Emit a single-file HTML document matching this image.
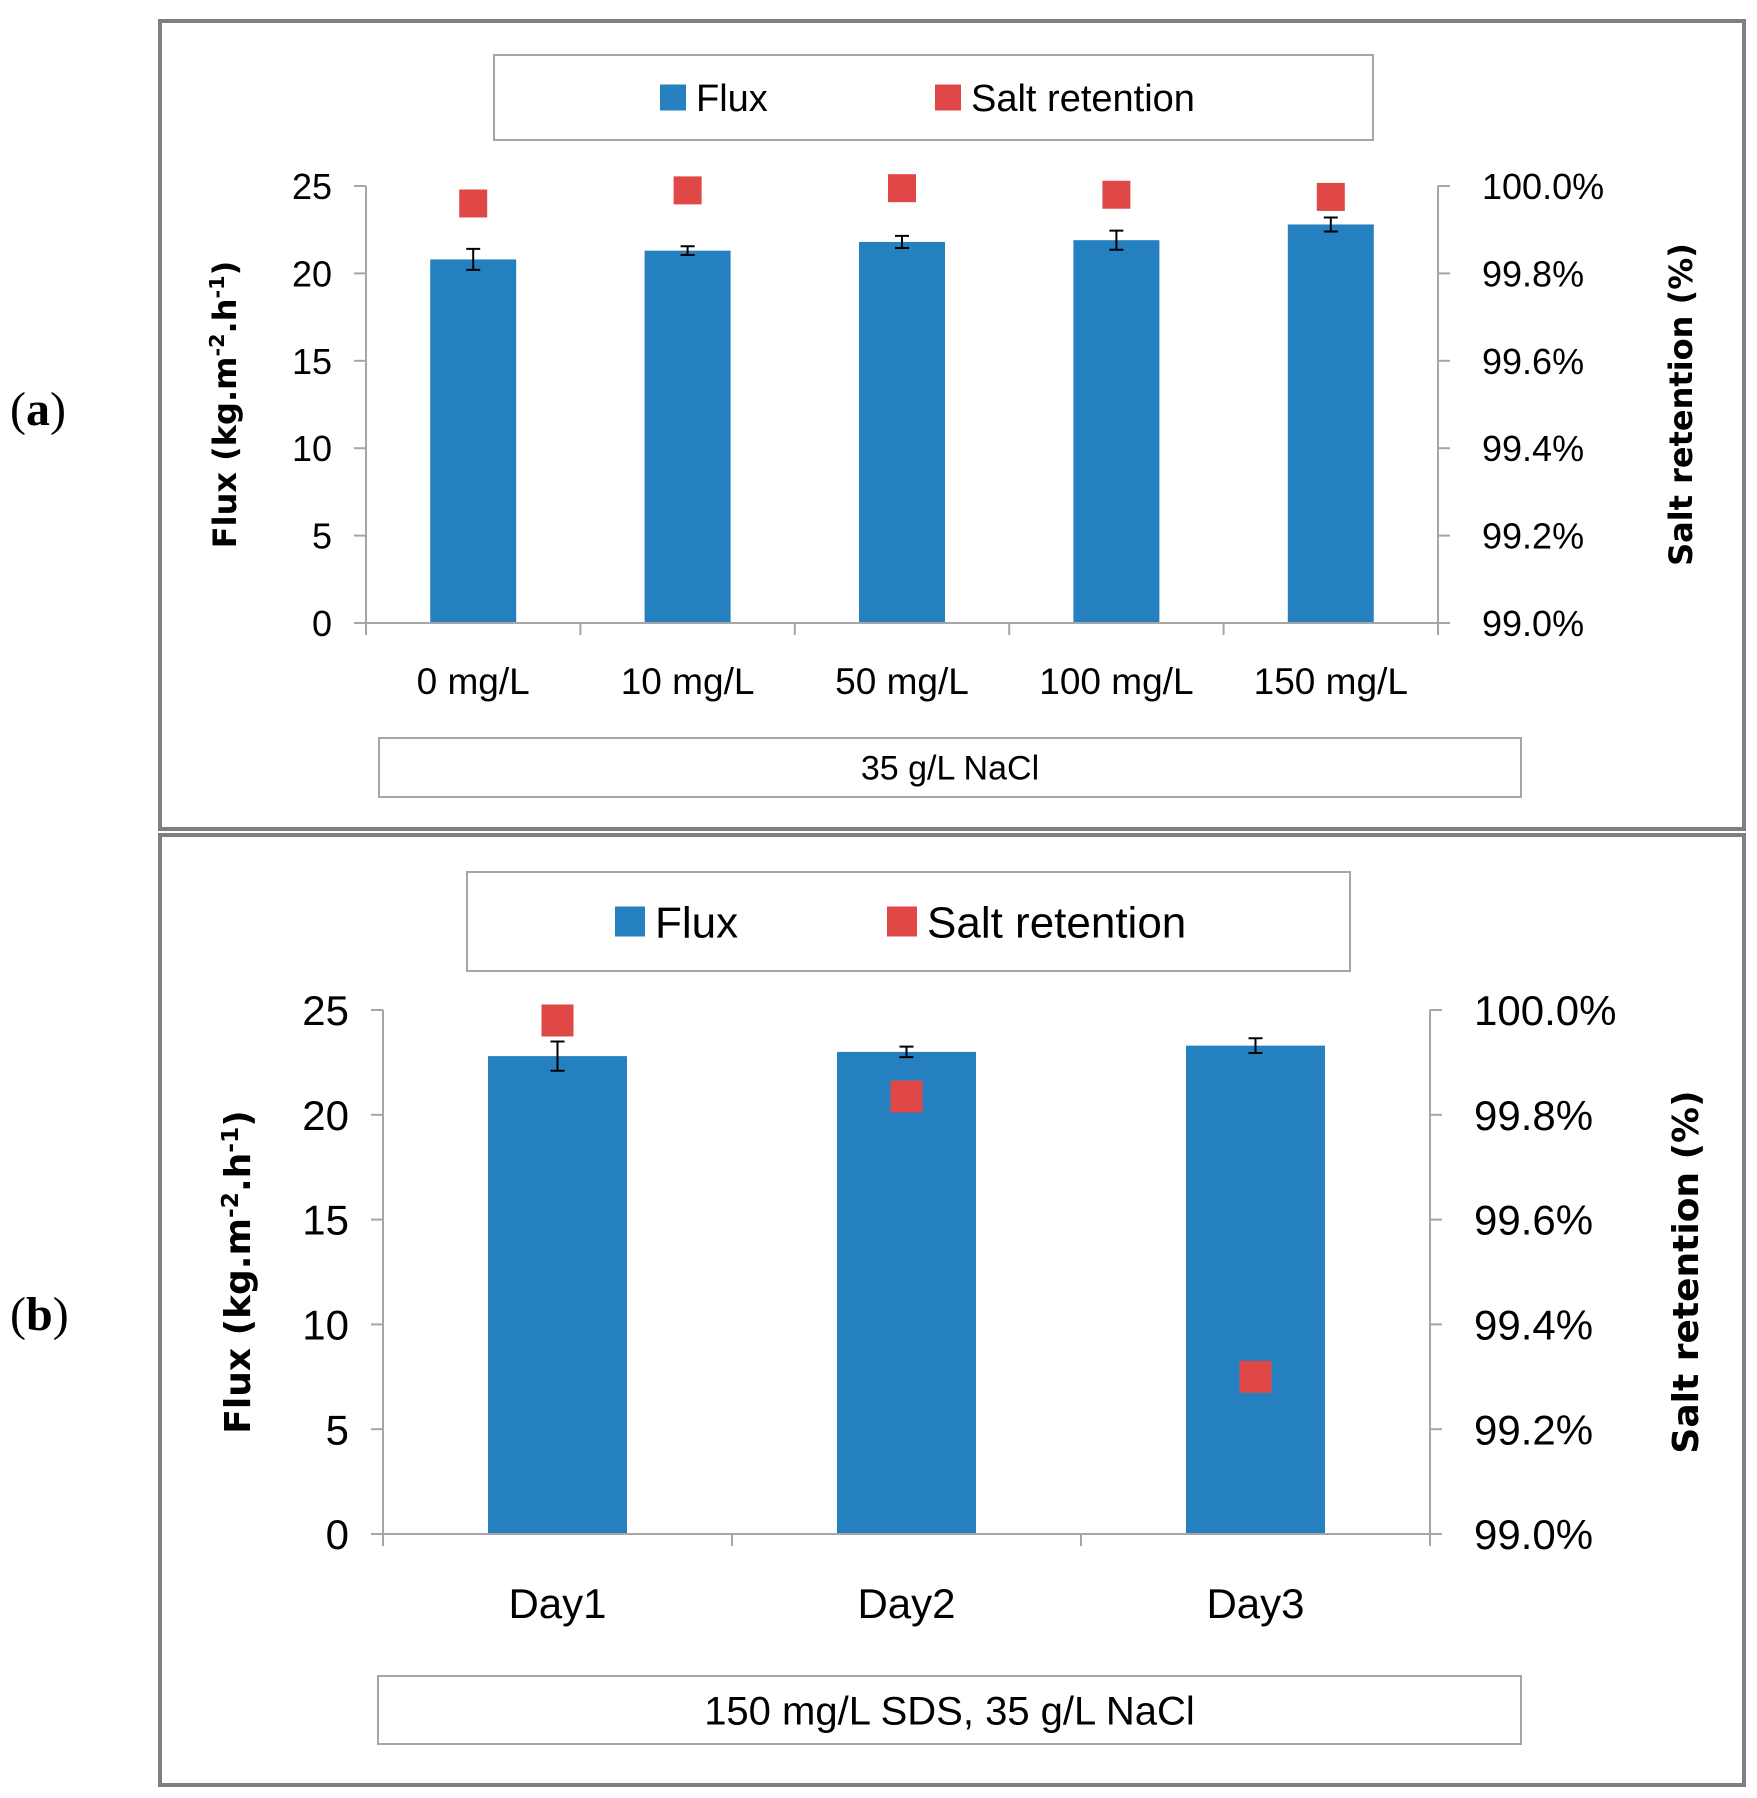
<!DOCTYPE html>
<html><head><meta charset="utf-8"><style>
body{margin:0;background:#fff;}
svg{display:block;font-family:"Liberation Sans",sans-serif;}
</style></head><body>
<svg id="s" width="1757" height="1798" viewBox="0 0 1757 1798" xmlns="http://www.w3.org/2000/svg">
<text x="10" y="425" font-family="Liberation Serif" font-size="48">(<tspan font-weight="bold">a</tspan>)</text>
<text x="10" y="1330" font-family="Liberation Serif" font-size="48">(<tspan font-weight="bold">b</tspan>)</text>
</svg>
<script>
const catsA=["0 mg/L","10 mg/L","50 mg/L","100 mg/L","150 mg/L"];
const fluxA=[20.8,21.3,21.8,21.9,22.8];
const errA=[0.6,0.25,0.35,0.55,0.4];
const retA=[99.96,99.99,99.995,99.98,99.975];
const catsB=["Day1","Day2","Day3"];
const fluxB=[22.8,23.0,23.3];
const errB=[0.7,0.25,0.35];
const retB=[99.98,99.835,99.30];
const fluxTicks=[0,5,10,15,20,25];
const retTicks=[99.0,99.2,99.4,99.6,99.8,100.0];
const NS="http://www.w3.org/2000/svg";
const svg=document.getElementById('s');
function el(t,a,p){const e=document.createElementNS(NS,t);for(const k in a)e.setAttribute(k,a[k]);(p||svg).appendChild(e);return e;}
function panel(o){
  const g=el('g',{});
  
  
  const box=el('rect',{x:o.bx,y:o.by,width:o.bw,height:o.bh,fill:'#fff',stroke:'#7f7f7f','stroke-width':4},g);
  
  
  const yF=v=>o.y0+(o.y1-o.y0)*(v/25);
  const yR=v=>o.y0+(o.y1-o.y0)*((v-99)/1);
  const step=(o.xr-o.xl)/o.cats.length;
  const xC=i=>o.xl+step*(i+0.5);
  // axes
  el('line',{x1:o.xl,y1:o.y1,x2:o.xl,y2:o.y0,stroke:'#a6a6a6','stroke-width':2},g);
  el('line',{x1:o.xr,y1:o.y1,x2:o.xr,y2:o.y0,stroke:'#a6a6a6','stroke-width':2},g);
  fluxTicks.forEach(t=>{
    const y=yF(t);
    el('line',{x1:o.xl-12,y1:y,x2:o.xl,y2:y,stroke:'#a6a6a6','stroke-width':2},g);
    const tx=el('text',{x:o.xl-34,y:y+o.fs*0.36,'font-size':o.fs,'text-anchor':'end',fill:'#000'},g);
    tx.textContent=t;
    
    
  });
  retTicks.forEach(t=>{
    const y=yR(t);
    el('line',{x1:o.xr,y1:y,x2:o.xr+12,y2:y,stroke:'#a6a6a6','stroke-width':2},g);
    const tx=el('text',{x:o.xr+44,y:y+o.fs*0.36,'font-size':o.fs,fill:'#000'},g);
    tx.textContent=t.toFixed(1)+'%';
    
    
  });
  for(let i=0;i<=o.cats.length;i++){const x=o.xl+step*i;el('line',{x1:x,y1:o.y0,x2:x,y2:o.y0+12,stroke:'#a6a6a6','stroke-width':2},g);}
  o.cats.forEach((c,i)=>{
    const x=xC(i);
    const b=el('rect',{x:x-o.bwid/2,y:yF(o.flux[i]),width:o.bwid,height:o.y0-yF(o.flux[i]),fill:'#2580c0'},g);
    
    
    const yt=yF(o.flux[i]+o.err[i]),yb=yF(o.flux[i]-o.err[i]);
    const eb=el('path',{d:`M${x},${yt}V${yb}M${x-7},${yt}H${x+7}M${x-7},${yb}H${x+7}`,stroke:'#000','stroke-width':2,fill:'none'},g);
    
    
    const m=el('rect',{x:x-o.ms/2,y:yR(o.ret[i])-o.ms/2,width:o.ms,height:o.ms,fill:'#e04848'},g);
    
    
    const t=el('text',{x:x,y:o.xly,'font-size':o.xfs,'text-anchor':'middle'},g);
    t.textContent=c;
    
    
  });
  el('line',{x1:o.xl,y1:o.y0,x2:o.xr,y2:o.y0,stroke:'#a6a6a6','stroke-width':2},g);
  // axis titles
  const cy=(o.y0+o.y1)/2;
  const lt=el('text',{x:o.ltx,y:cy,'font-size':o.tfs,'font-weight':'bold','text-anchor':'middle',transform:`rotate(-90 ${o.ltx} ${cy})`,'font-family':'DejaVu Sans'},g);
  lt.innerHTML='Flux (kg.m<tspan font-size="'+(o.tfs*0.65)+'" dy="-12">-2</tspan><tspan dy="12">.h</tspan><tspan font-size="'+(o.tfs*0.65)+'" dy="-12">-1</tspan><tspan dy="12">)</tspan>';
  
  
  const rt=el('text',{x:o.rtx,y:cy,'font-size':o.tfs,'font-weight':'bold','text-anchor':'middle',transform:`rotate(-90 ${o.rtx} ${cy})`,'font-family':'DejaVu Sans'},g);
  rt.textContent='Salt retention (%)';
  
  
  // legend
  const lg=el('g',{},g);
  
  
  el('rect',{x:o.lx,y:o.ly,width:o.lw,height:o.lh,fill:'#fff',stroke:'#a6a6a6','stroke-width':2},lg);
  const ly=o.ly+o.lh/2;
  el('rect',{x:o.l1,y:ly-o.lsq/2,width:o.lsq,height:o.lsq,fill:'#2580c0'},lg);
  const t1=el('text',{x:o.l1+o.lsq+10,y:ly+o.lfs*0.36,'font-size':o.lfs},lg);t1.textContent='Flux';
  
  
  el('rect',{x:o.l2,y:ly-o.lsq/2,width:o.lsq,height:o.lsq,fill:'#e04848'},lg);
  const t2=el('text',{x:o.l2+o.lsq+10,y:ly+o.lfs*0.36,'font-size':o.lfs},lg);t2.textContent='Salt retention';
  
  
  // category box
  const cb=el('g',{},g);
  
  
  el('rect',{x:o.cx,y:o.cyy,width:o.cw,height:o.ch,fill:'#fff',stroke:'#a6a6a6','stroke-width':2},cb);
  const ct=el('text',{x:o.cx+o.cw/2,y:o.cyy+o.ch/2+o.cfs*0.36,'font-size':o.cfs,'text-anchor':'middle'},cb);
  ct.textContent=o.cond;
}
panel({id:'a',bx:160,by:21,bw:1584,bh:808,cats:catsA,flux:fluxA,err:errA,ret:retA,
  xl:366,xr:1438,y0:623,y1:186,bwid:86,ms:28,fs:36,xfs:37,xly:694,tfs:32,ltx:236,rtx:1692,
  lx:494,ly:55,lw:879,lh:85,l1:660,l2:935,lsq:26,lfs:38,lsq2:0,
  cx:379,cyy:738,cw:1142,ch:59,cfs:34,cond:'35 g/L NaCl'});
panel({id:'b',bx:160,by:835,bw:1584,bh:950,cats:catsB,flux:fluxB,err:errB,ret:retB,
  xl:383,xr:1430,y0:1534,y1:1010,bwid:139,ms:32,fs:42,xfs:42,xly:1618,tfs:36,ltx:250,rtx:1698,
  lx:467,ly:872,lw:883,lh:99,l1:615,l2:887,lsq:30,lfs:44,
  cx:378,cyy:1676,cw:1143,ch:68,cfs:40,cond:'150 mg/L SDS, 35 g/L NaCl'});
</script>
</body></html>
